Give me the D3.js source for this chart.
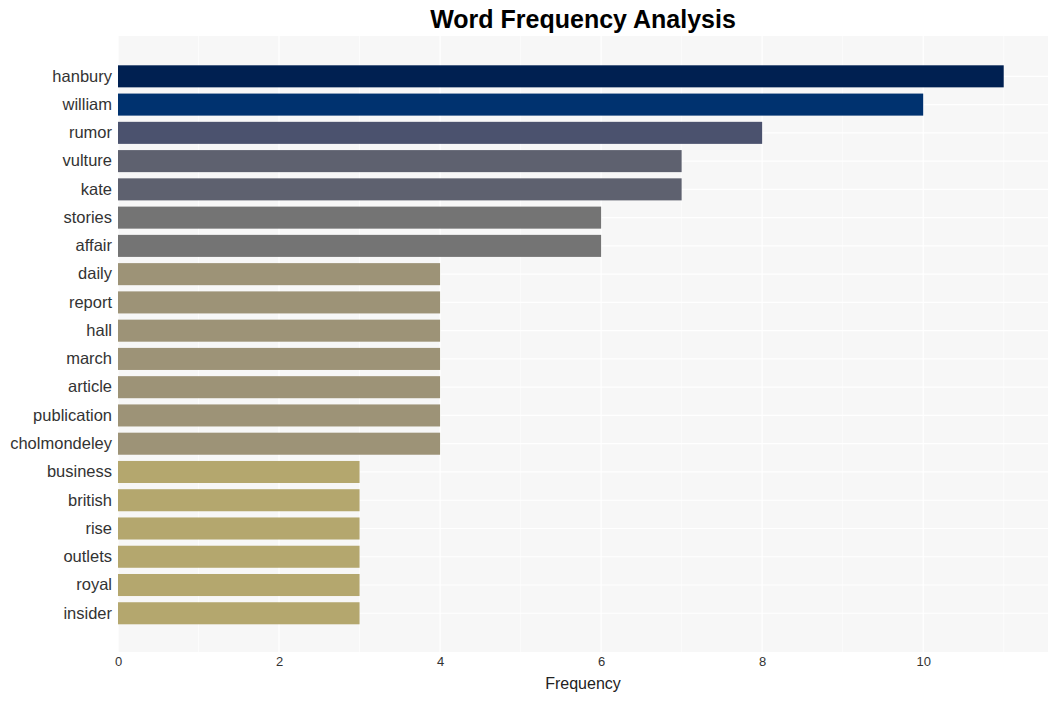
<!DOCTYPE html>
<html><head><meta charset="utf-8">
<script src="https://cdn.jsdelivr.net/npm/d3@7"></script>
<style>body{margin:0;background:#fff;}text{font-family:"Liberation Sans",Arial,sans-serif;}</style>
</head><body>
<svg id="c" width="1057" height="701"></svg>
<script>
const words = ["hanbury","william","rumor","vulture","kate","stories","affair","daily","report","hall","march","article","publication","cholmondeley","business","british","rise","outlets","royal","insider"];
const counts = [11,10,8,7,7,6,6,4,4,4,4,4,4,4,3,3,3,3,3,3];
const colors = ["#002051","#00326f","#4b526e","#5e616f","#5e616f","#747474","#747474","#9d9377","#9d9377","#9d9377","#9d9377","#9d9377","#9d9377","#9d9377","#b4a76e","#b4a76e","#b4a76e","#b4a76e","#b4a76e","#b4a76e"];
const xTicks = [0,2,4,6,8,10];
const xMinor = [1,3,5,7,9,11];

const svg = d3.select("#c");
const L=118, R=1048, T=36, B=652;
const x = d3.scaleLinear().domain([0,11.55]).range([L,R]);
const y = d3.scaleBand().domain(words).range([62.2,627.4]).paddingInner(0.22).paddingOuter(0.11);

svg.append("rect").attr("x",L).attr("y",T).attr("width",R-L).attr("height",B-T).attr("fill","#f7f7f7");
svg.selectAll(".gm").data(xMinor).enter().append("line")
  .attr("x1",d=>x(d)).attr("x2",d=>x(d)).attr("y1",T).attr("y2",B).attr("stroke","#fff").attr("stroke-width",0.6);
svg.selectAll(".gx").data(xTicks).enter().append("line")
  .attr("x1",d=>x(d)).attr("x2",d=>x(d)).attr("y1",T).attr("y2",B).attr("stroke","#fff").attr("stroke-width",1.2);
svg.selectAll(".gy").data(words).enter().append("line")
  .attr("x1",L).attr("x2",R).attr("y1",d=>y(d)+y.bandwidth()/2).attr("y2",d=>y(d)+y.bandwidth()/2).attr("stroke","#fff").attr("stroke-width",1.2);

svg.selectAll(".bar").data(words).enter().append("rect")
  .attr("x",x(0)).attr("y",d=>y(d)).attr("height",y.bandwidth())
  .attr("width",(d,i)=>x(counts[i])-x(0)).attr("fill",(d,i)=>colors[i]);

const yAxis = svg.append("g").attr("transform",`translate(${L},0)`).call(d3.axisLeft(y).tickSize(0).tickPadding(6));
yAxis.select(".domain").remove();
yAxis.selectAll("text").attr("font-size",16.5).attr("fill","#333").attr("font-family","Liberation Sans, Arial, sans-serif");

const xAxis = svg.append("g").attr("transform",`translate(0,${B})`).call(d3.axisBottom(x).tickValues(xTicks).tickSize(0).tickPadding(5));
xAxis.select(".domain").remove();
xAxis.selectAll("text").attr("font-size",13).attr("fill","#333").attr("font-family","Liberation Sans, Arial, sans-serif");

svg.append("text").attr("x",(L+R)/2).attr("y",689).attr("text-anchor","middle").attr("font-size",16).attr("fill","#222").text("Frequency");
svg.append("text").attr("x",(L+R)/2).attr("y",28).attr("text-anchor","middle").attr("font-size",25).attr("font-weight","bold").attr("fill","#000").text("Word Frequency Analysis");
</script>
</body></html>
